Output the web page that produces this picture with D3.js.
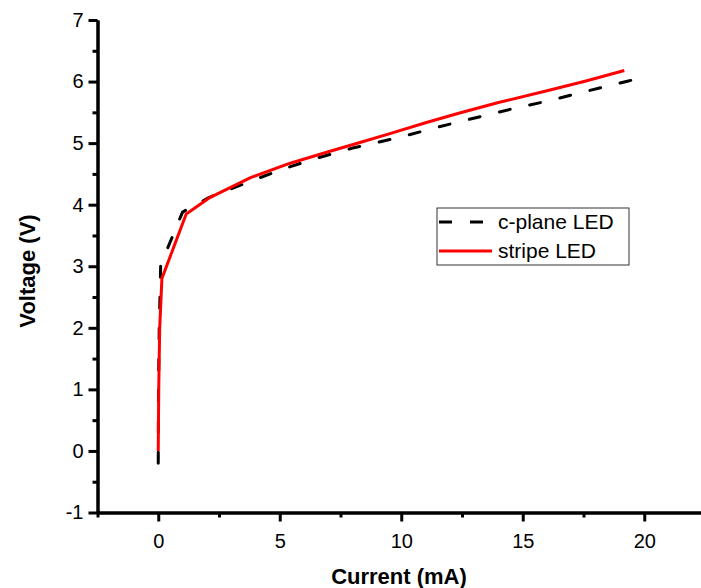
<!DOCTYPE html>
<html>
<head>
<meta charset="utf-8">
<script src="https://cdn.jsdelivr.net/npm/d3@7"></script>
<style>
  body { margin: 0; background: #fff; }
  text { font-family: "Liberation Sans", Arial, sans-serif; }
</style>
</head>
<body>
<div id="chart"></div>
<script>
// c-plane LED (black dashed)
const cplaneI = [0, 0.01, 0.04, 0.1, 1.0, 2.1, 3.8, 5.0, 6.3, 8.0, 10.0, 11.5, 13.25, 14.6, 16.1, 17.7, 19.35, 20.1];
const cplaneV = [-0.2, 1.0, 2.0, 3.02, 3.88, 4.12, 4.38, 4.56, 4.73, 4.92, 5.1, 5.26, 5.43, 5.56, 5.69, 5.85, 6.01, 6.08];
// stripe LED (red)
const stripeI = [0, 0.02, 0.06, 0.15, 1.15, 2.14, 3.8, 5.4, 7.0, 8.3, 9.5, 11.0, 12.4, 14.0, 16.0, 17.6, 19.18];
const stripeV = [0, 1.0, 2.0, 2.8, 3.85, 4.12, 4.44, 4.67, 4.86, 5.01, 5.15, 5.33, 5.49, 5.66, 5.85, 6.01, 6.18];

const xMajor = [0, 5, 10, 15, 20];
const xMinor = [-2.5, 2.5, 7.5, 12.5, 17.5, 22.5];
const yMajor = [-1, 0, 1, 2, 3, 4, 5, 6, 7];
const yMinor = [-0.5, 0.5, 1.5, 2.5, 3.5, 4.5, 5.5, 6.5];

const series = [
  { name: "c-plane LED", I: cplaneI, V: cplaneV, color: "#000", dash: "11,20" },
  { name: "stripe LED", I: stripeI, V: stripeV, color: "#ff0000", dash: null }
];

const width = 701, height = 588;
const x = d3.scaleLinear().domain([-2.5, 22.5]).range([97.5, 705]);
const y = d3.scaleLinear().domain([-1, 7]).range([512.5, 20]);

const svg = d3.select("#chart").append("svg")
  .attr("width", width)
  .attr("height", height);

const fmt = d => String(d); // plain hyphen minus like the original

// axes
svg.append("g")
  .attr("transform", `translate(0,${y(-1)})`)
  .call(d3.axisBottom(x).tickValues(xMajor).tickSize(9).tickPadding(12).tickSizeOuter(0).tickFormat(fmt));
svg.append("g")
  .attr("transform", `translate(0,${y(-1)})`)
  .call(d3.axisBottom(x).tickValues(xMinor).tickSize(5).tickFormat("").tickSizeOuter(0));

svg.append("g")
  .attr("transform", `translate(${x(-2.5)},0)`)
  .call(d3.axisLeft(y).tickValues(yMajor).tickSize(9).tickPadding(5).tickSizeOuter(0).tickFormat(fmt));
svg.append("g")
  .attr("transform", `translate(${x(-2.5)},0)`)
  .call(d3.axisLeft(y).tickValues(yMinor).tickSize(5).tickFormat("").tickSizeOuter(0));

svg.selectAll(".domain").style("stroke", "#000").style("stroke-width", "3px");
svg.selectAll(".tick line").style("stroke", "#000").style("stroke-width", "3px");
svg.selectAll(".tick text")
  .style("fill", "#000")
  .style("font-size", "20px")
  .style("font-family", "'Liberation Sans', Arial, sans-serif");

// axis titles
svg.append("text")
  .attr("x", 399)
  .attr("y", 584)
  .attr("text-anchor", "middle")
  .style("font-size", "22px")
  .style("font-weight", "bold")
  .text("Current (mA)");

svg.append("text")
  .attr("transform", `translate(35,271) rotate(-90)`)
  .attr("text-anchor", "middle")
  .style("font-size", "22px")
  .style("font-weight", "bold")
  .text("Voltage (V)");

// lines
const line = d3.line()
  .x(d => x(d[0]))
  .y(d => y(d[1]));

series.forEach(s => {
  const pts = s.I.map((v, i) => [v, s.V[i]]);
  svg.append("path")
    .datum(pts)
    .attr("fill", "none")
    .attr("stroke", s.color)
    .attr("stroke-width", 3)
    .attr("stroke-linecap", s.dash ? "round" : "butt")
    .attr("stroke-linejoin", "round")
    .attr("stroke-dasharray", s.dash)
    .attr("d", line);
});

// legend
const legend = svg.append("g").attr("transform", "translate(437,208)");
legend.append("rect")
  .attr("width", 192)
  .attr("height", 57)
  .attr("fill", "#fff")
  .attr("stroke", "#333")
  .attr("stroke-width", 1);

series.forEach((s, i) => {
  const ly = 14 + i * 29;
  legend.append("line")
    .attr("x1", 2).attr("x2", 55)
    .attr("y1", ly).attr("y2", ly)
    .attr("stroke", s.color)
    .attr("stroke-width", 3)
    .attr("stroke-dasharray", s.dash ? "13,18" : null);
  legend.append("text")
    .attr("x", 61)
    .attr("y", ly + 7)
    .style("font-size", "21px")
    .text(s.name);
});
</script>
</body>
</html>
